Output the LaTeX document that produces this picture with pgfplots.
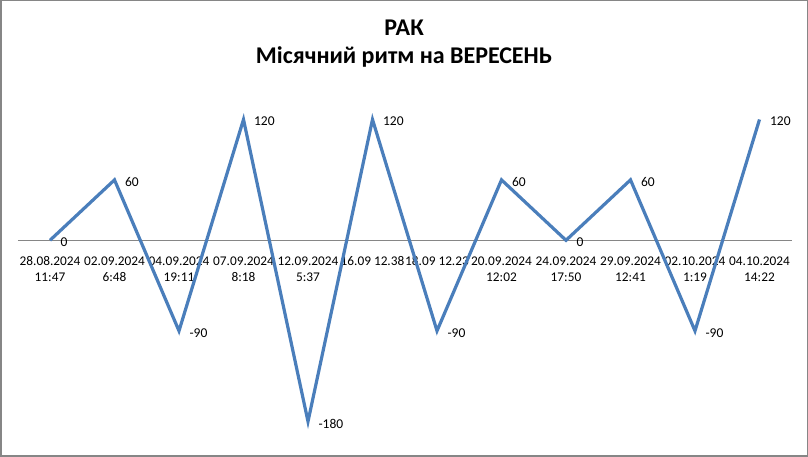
\documentclass[border=0pt]{standalone}
\usepackage{fontspec}
\setmainfont{Carlito}
\usepackage{pgfplots}
\pgfplotsset{compat=1.18}
\definecolor{lineblue}{HTML}{4A7EBB}
\definecolor{framegray}{HTML}{868686}
\begin{document}
\begin{tikzpicture}
  \useasboundingbox (0,0) rectangle (808pt,457pt);
  \draw[framegray, line width=1.5pt] (0.75pt,0.75pt) rectangle (807.25pt,456.25pt);
  \node[font=\fontsize{24}{28}\selectfont\bfseries] at (404pt,429pt) {РАК};
  \node[font=\fontsize{24}{28}\selectfont\bfseries] at (404pt,400pt) {Місячний ритм на ВЕРЕСЕНЬ};
  \begin{axis}[
    at={(17.75pt,35.5pt)}, anchor=south west,
    scale only axis,
    width=774pt, height=302pt,
    xmin=-0.5, xmax=11.5,
    ymin=-180, ymax=120,
    enlargelimits=false,
    clip=false,
    axis x line=middle,
    axis y line=none,
    axis line style={-, framegray, line width=0.9pt},
    xtick={0,...,11},
    xticklabels={{28.08.2024\\11:47},{02.09.2024\\6:48},{04.09.2024\\19:11},
      {07.09.2024\\8:18},{12.09.2024\\5:37},{16.09 12.38},{18.09 12.23},
      {20.09.2024\\12:02},{24.09.2024\\17:50},{29.09.2024\\12:41},
      {02.10.2024\\1:19},{04.10.2024\\14:22}},
    major tick length=0pt,
    xticklabel style={align=center, anchor=north, yshift=-16pt, inner sep=0pt,
      font=\fontsize{13.3}{16}\selectfont, text=black},
    nodes near coords,
    point meta=explicit symbolic,
    nodes near coords style={anchor=west, xshift=9pt, yshift=-2pt, inner sep=0pt,
      font=\fontsize{13.5}{16}\selectfont, text=black},
  ]
  \addplot[lineblue, line width=3.2pt, line join=miter, mark=none]
    coordinates {(0,0)[0] (1,60)[60] (2,-90)[-90] (3,120)[120]
      (4,-180)[-180] (5,120)[120] (6,-90)[-90] (7,60)[60]
      (8,0)[0] (9,60)[60] (10,-90)[-90] (11,120)[120]};
  \end{axis}
\end{tikzpicture}
\end{document}
